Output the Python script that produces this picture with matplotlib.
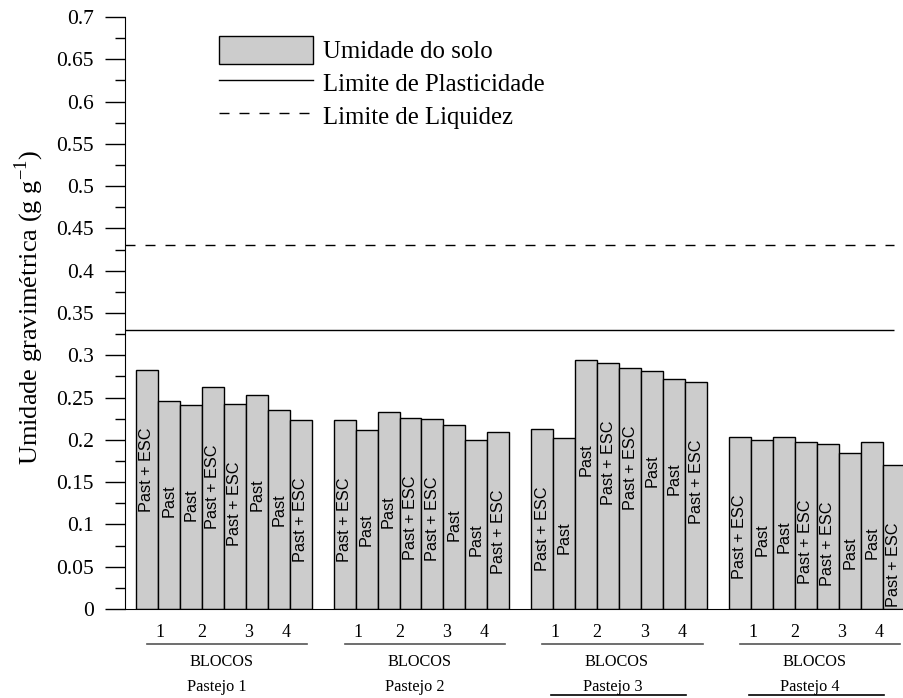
import numpy as np
import matplotlib
matplotlib.use("Agg")
import matplotlib.pyplot as plt
from matplotlib.patches import Patch
from matplotlib.lines import Line2D
from matplotlib.ticker import MultipleLocator, FuncFormatter

plt.rcParams['font.family'] = ['Liberation Serif', 'DejaVu Serif']
plt.rcParams['mathtext.fontset'] = 'custom'
plt.rcParams['mathtext.rm'] = 'Liberation Serif'

# Dados (umidade gravimetrica por pastejo, 8 barras cada)
pastejos = ['Pastejo 1', 'Pastejo 2', 'Pastejo 3', 'Pastejo 4']
tratamentos = ['Past + ESC', 'Past', 'Past', 'Past + ESC',
               'Past + ESC', 'Past', 'Past', 'Past + ESC']
umidade_p1 = [0.283, 0.246, 0.241, 0.262, 0.242, 0.253, 0.235, 0.224]
umidade_p2 = [0.223, 0.212, 0.233, 0.226, 0.225, 0.218, 0.200, 0.209]
umidade_p3 = [0.213, 0.202, 0.294, 0.291, 0.285, 0.282, 0.272, 0.268]
umidade_p4 = [0.203, 0.200, 0.203, 0.198, 0.195, 0.184, 0.197, 0.170]
blocos = ['1', '2', '3', '4']
limite_plasticidade = 0.33
limite_liquidez = 0.43

umidades = [umidade_p1, umidade_p2, umidade_p3, umidade_p4]

fig = plt.figure(figsize=(9.04, 6.98), dpi=100)
ax = fig.add_axes([125 / 904, 89 / 698, 779 / 904, 592 / 698])

cinza = '#cccccc'
passo = 9  # 8 barras + 1 espaco
for g, vals in enumerate(umidades):
    x = g * passo + np.arange(len(vals))
    ax.bar(x, vals, width=1.0, color=cinza, edgecolor='black', linewidth=1.0, zorder=2)
    for xi, v, t in zip(x, vals, tratamentos):
        ax.text(xi, v - 0.118, t, rotation=90, ha='center', va='center',
                family=['Liberation Sans', 'DejaVu Sans'], fontsize=11.7, zorder=3)

ax.hlines(limite_plasticidade, -1.0, 34.0, color='black', linewidth=1.0, zorder=1)
ax.hlines(limite_liquidez, -1.0, 34.0, color='black', linewidth=1.0,
          linestyles=(0, (7.2, 7.2)), zorder=1)

ax.set_xlim(-1.0, 34.47)
ax.set_ylim(0, 0.7)
ax.spines['top'].set_visible(False)
ax.spines['right'].set_visible(False)
ax.set_xticks([])
ax.yaxis.set_major_locator(MultipleLocator(0.05))
ax.yaxis.set_minor_locator(MultipleLocator(0.025))
ax.yaxis.set_major_formatter(FuncFormatter(lambda v, p: ('%.2f' % v).rstrip('0').rstrip('.') if v else '0'))
ax.tick_params(axis='y', which='major', length=14.4, width=1.0, pad=8.0, labelsize=15.5)
ax.tick_params(axis='y', which='minor', length=7.2, width=1.0)

ax.set_ylabel('Umidade gravimétrica (g g$^{\\mathrm{-1}}$)', fontsize=19)
ax.yaxis.label.set_va('center')
ax.yaxis.set_label_coords(-0.123, 0.51)

# Rotulos abaixo do eixo: blocos, linha, BLOCOS, Pastejo
tr = ax.get_xaxis_transform()
desloc_blocos = [1.1, 3.0, 5.15, 6.85]
for g, nome in enumerate(pastejos):
    esq = g * passo - 0.5
    for b, d in zip(blocos, desloc_blocos):
        ax.text(esq + d, -0.039, b, ha='center', va='center', fontsize=13,
                transform=tr, clip_on=False)
    ax.plot([esq + 0.5, esq + 7.8], [-0.059, -0.059], color='#555555',
            linewidth=1.2, transform=tr, clip_on=False)
    ax.text(esq + 3.9, -0.089, 'BLOCOS', ha='center', va='center', fontsize=11.7,
            transform=tr, clip_on=False)
    ax.text(esq + 3.7, -0.132, nome, ha='center', va='center', fontsize=11.7,
            transform=tr, clip_on=False)
    if g >= 2:
        ax.plot([esq + 0.9, esq + 7.05], [-0.145, -0.145], color='black',
                linewidth=1.2, transform=tr, clip_on=False)

handles = [Patch(facecolor=cinza, edgecolor='black', linewidth=1.0),
           Line2D([], [], color='black', linewidth=1.0),
           Line2D([], [], color='black', linewidth=1.0, linestyle=(0, (7.2, 7.2)))]
labels = ['Umidade do solo', 'Limite de Plasticidade', 'Limite de Liquidez']
fig.legend(handles, labels, loc='upper left', bbox_to_anchor=(219 / 904, 1 - 36 / 698),
           frameon=False, fontsize=17.8, handlelength=3.8, handleheight=1.37,
           handletextpad=0.4, labelspacing=0.19, borderpad=0, borderaxespad=0)

fig.savefig('out.png', dpi=100)
